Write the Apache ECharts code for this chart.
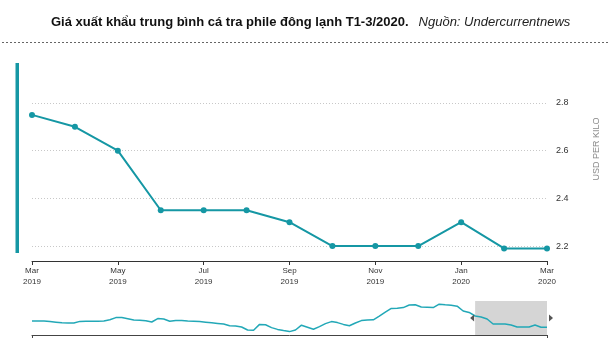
<!DOCTYPE html>
<html>
<head>
<meta charset="utf-8">
<script src="https://cdn.jsdelivr.net/npm/echarts@6/dist/echarts.min.js"></script>
<style>
html,body{margin:0;padding:0;background:#fff;}
#chart{width:614px;height:348px;}
</style>
</head>
<body>
<div id="chart"></div>
<script>
// ---- Data ----
const monthNames = ['Jan','Feb','Mar','Apr','May','Jun','Jul','Aug','Sep','Oct','Nov','Dec'];
const startYear = 2013, startMonth = 0; // Jan 2013
// History (navigator only): Jan 2013 – Feb 2019
const historyValues = [
  2.50, 2.50, 2.50, 2.47, 2.44, 2.41, 2.40, 2.40, 2.48, 2.49, 2.49, 2.49,
  2.50, 2.56, 2.67, 2.67, 2.61, 2.55, 2.54, 2.51, 2.45, 2.62, 2.60, 2.49,
  2.53, 2.52, 2.50, 2.49, 2.47, 2.44, 2.41, 2.38, 2.35, 2.26, 2.25, 2.20,
  2.05, 2.04, 2.33, 2.31, 2.17, 2.08, 2.02, 1.97, 2.05, 2.29, 2.19, 2.09,
  2.22, 2.37, 2.47, 2.42, 2.33, 2.26, 2.40, 2.52, 2.55, 2.56, 2.74, 2.94,
  3.13, 3.14, 3.17, 3.30, 3.31, 3.20, 3.19, 3.17, 3.34, 3.31, 3.29, 3.24,
  3.00, 2.93
];
// Displayed period: Mar 2019 – Mar 2020
const recentValues = [2.75, 2.70, 2.60, 2.35, 2.35, 2.35, 2.30, 2.20, 2.20, 2.20, 2.30, 2.19, 2.19];
const yTicks = [2.2, 2.4, 2.6, 2.8];

const allValues = historyValues.concat(recentValues);
const allCategories = [];
for (let i = 0; i < allValues.length; i++) {
  const m = (startMonth + i) % 12;
  const y = startYear + Math.floor((startMonth + i) / 12);
  allCategories.push(monthNames[m] + ' ' + y);
}
const recentCategories = allCategories.slice(historyValues.length);

const teal = '#1597a4';
const navTeal = '#22a8b7';
const font = '"Liberation Sans", Arial, sans-serif';

const chart = echarts.init(document.getElementById('chart'), null, {renderer: 'canvas'});
chart.setOption({
  animation: false,
  backgroundColor: '#fff',
  textStyle: {fontFamily: font},
  title: {
    text: '{b|Giá xuất khẩu trung bình cá tra phile đông lạnh T1-3/2020.}  {i|Nguồn: Undercurrentnews}',
    left: 46,
    top: 8,
    textStyle: {
      fontFamily: font,
      fontWeight: 'normal',
      rich: {
        b: {fontFamily: font, fontWeight: 'bold', fontSize: 13, color: '#111'},
        i: {fontFamily: font, fontStyle: 'italic', fontWeight: 'normal', fontSize: 13, color: '#222'}
      }
    }
  },
  graphic: [
    {type: 'line', shape: {x1: 2, y1: 42.5, x2: 609, y2: 42.5},
     style: {stroke: '#666', lineWidth: 1, lineDash: [2, 2]}, silent: true},
    {type: 'rect', shape: {x: 15.5, y: 63, width: 3.5, height: 190},
     style: {fill: teal}, silent: true},
    {type: 'text', x: 597, y: 149, rotation: Math.PI / 2,
     style: {text: 'USD PER KILO', fill: '#8a8a8a', font: '9px ' + font, align: 'center', verticalAlign: 'middle'},
     silent: true}
  ],
  grid: [
    {left: 32, right: 67, top: 55.3, bottom: 54.3},
    {left: 32, right: 67, top: 301, bottom: 13}
  ],
  xAxis: [
    {
      type: 'category', gridIndex: 0, data: recentCategories, boundaryGap: false,
      offset: -32.7,
      axisLine: {lineStyle: {color: '#333', width: 1}},
      axisTick: {show: true, interval: 1, length: 4, lineStyle: {color: '#333'}},
      axisLabel: {interval: 1, fontSize: 8, color: '#333', lineHeight: 11, margin: 4,
        fontFamily: font,
        formatter: v => v.replace(' ', '\n')},
      splitLine: {show: false}
    },
    {
      type: 'category', gridIndex: 1, data: allCategories, boundaryGap: false,
      axisLine: {lineStyle: {color: '#444', width: 1}},
      axisTick: {show: true, length: 3, lineStyle: {color: '#444'},
        interval: (idx) => idx === 0 || idx === allCategories.length - 1},
      axisLabel: {show: false},
      splitLine: {show: false}
    }
  ],
  yAxis: [
    {
      type: 'value', gridIndex: 0, position: 'right', min: 2.0, max: 3.0, interval: 0.2,
      axisLine: {show: false}, axisTick: {show: false},
      axisLabel: {fontSize: 9, color: '#333', margin: 9, fontFamily: font,
        showMinLabel: false, showMaxLabel: false,
        formatter: v => (yTicks.some(t => Math.abs(t - v) < 1e-6) ? v.toFixed(1) : '')},
      splitLine: {show: true, showMinLine: false, showMaxLine: false,
        lineStyle: {color: '#c8c8c8', type: [1, 2], width: 1}}
    },
    {
      type: 'value', gridIndex: 1, min: 1.8, max: 3.5, show: false,
      splitLine: {show: false}
    }
  ],
  series: [
    {
      type: 'line', xAxisIndex: 0, yAxisIndex: 0, data: recentValues,
      symbol: 'circle', symbolSize: 6, showSymbol: true,
      lineStyle: {color: teal, width: 2},
      itemStyle: {color: teal},
      z: 5
    },
    {
      type: 'line', xAxisIndex: 1, yAxisIndex: 1, data: allValues,
      showSymbol: false, symbol: 'none',
      lineStyle: {color: navTeal, width: 1.5},
      markArea: {
        silent: true,
        itemStyle: {color: '#d5d5d5'},
        label: {show: false},
        data: [[{xAxis: recentCategories[0]}, {xAxis: recentCategories[recentCategories.length - 1]}]]
      },
      markPoint: {
        silent: true,
        label: {show: false},
        itemStyle: {color: '#555'},
        data: [
          {coord: [recentCategories[0], 2.65], symbol: 'path://M1,0 L0,1 L1,2 Z', symbolSize: [4, 7], symbolOffset: [-3, 0]},
          {coord: [recentCategories[recentCategories.length - 1], 2.65], symbol: 'path://M0,0 L1,1 L0,2 Z', symbolSize: [4, 7], symbolOffset: [4, 0]}
        ]
      }
    }
  ]
});
</script>
</body>
</html>
